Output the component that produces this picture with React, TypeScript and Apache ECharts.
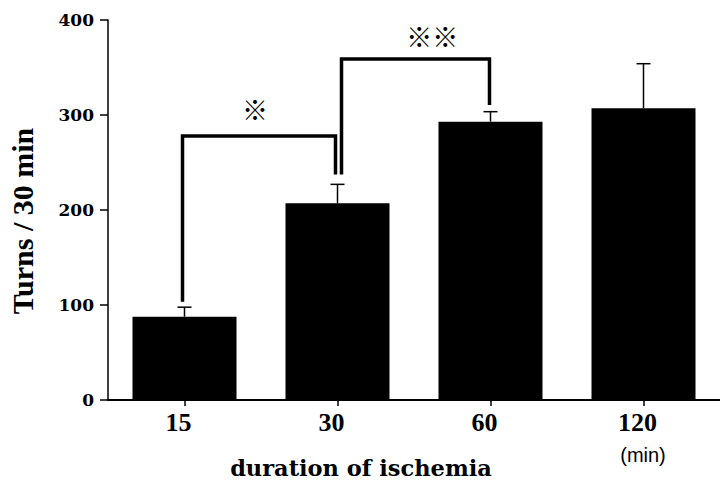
import React, { useEffect, useRef } from "react";
import * as echarts from "echarts";

const categories = ["15", "30", "60", "120"];
const means = [87.7, 207, 293, 307];
const sds = [10, 20, 10.5, 47];
const yTicks = [0, 100, 200, 300, 400];
// brackets: [fromIndex, toIndex, leftBase, top, rightBase]
const bracketFrom = [0, 1];
const bracketTo = [1, 2];
const bracketLeftBase = [103.5, 237.5];
const bracketTop = [278, 359];
const bracketRightBase = [237.5, 310.5];
const starLabels = ["※", "※※"];
const starY = [307, 384];
const starPos = [0.46, 0.62]; // fraction between from and to categories

export default function App() {
  const ref = useRef<HTMLDivElement>(null);
  useEffect(() => {
    if (!ref.current) return;
    const chart = echarts.init(ref.current, undefined, { renderer: "svg" });
    const errData = means.map((m, i) => [i, m, sds[i]]);
    const brData = bracketFrom.map((f, i) => [
      f,
      bracketTo[i],
      bracketLeftBase[i],
      bracketTop[i],
      bracketRightBase[i],
    ]);
    const starData = starLabels.map((s, i) => [bracketFrom[i], bracketTo[i], starY[i], starPos[i]]);
    const leftOff = [-2, 4];
    const rightOff = [-2, -1];
    chart.setOption({
      animation: false,
      backgroundColor: "#ffffff",
      grid: { left: 108, top: 20, width: 617, height: 380, containLabel: false },
      xAxis: {
        type: "category",
        data: categories,
        axisLine: { show: true, lineStyle: { color: "#000", width: 2 } },
        axisTick: { show: true, alignWithLabel: true, length: 6, lineStyle: { color: "#000", width: 1.5 } },
        axisLabel: {
          color: "#000",
          fontFamily: "Liberation Serif",
          fontWeight: "bold",
          fontSize: 26,
          margin: 9,
          padding: [0, 12, 0, 0],
        },
        splitLine: { show: false },
      },
      yAxis: {
        type: "value",
        min: 0,
        max: 400,
        interval: 100,
        axisLine: { show: true, lineStyle: { color: "#000", width: 1.5 } },
        axisTick: { show: true, length: 8, lineStyle: { color: "#000", width: 1.5 } },
        axisLabel: {
          color: "#000",
          fontFamily: "DejaVu Serif",
          fontWeight: "bold",
          fontSize: 17,
          margin: 14,
          formatter: (v: number) => (yTicks.includes(v) ? String(v) : ""),
        },
        splitLine: { show: false },
      },
      series: [
        {
          type: "bar",
          data: means,
          barWidth: 104,
          itemStyle: { color: "#000" },
          z: 2,
        },
        {
          type: "custom",
          data: errData,
          z: 3,
          renderItem: (params: any, api: any) => {
            const i = api.value(0);
            const m = api.value(1);
            const s = api.value(2);
            const p0 = api.coord([i, m]);
            const p1 = api.coord([i, m + s]);
            const hw = 7;
            return {
              type: "group",
              children: [
                {
                  type: "line",
                  shape: { x1: p0[0], y1: p0[1], x2: p1[0], y2: p1[1] },
                  style: { stroke: "#000", lineWidth: 1.5 },
                },
                {
                  type: "line",
                  shape: { x1: p1[0] - hw, y1: p1[1], x2: p1[0] + hw, y2: p1[1] },
                  style: { stroke: "#000", lineWidth: 1.5 },
                },
              ],
            };
          },
        },
        {
          type: "custom",
          data: brData,
          z: 4,
          renderItem: (params: any, api: any) => {
            const k = params.dataIndex;
            const a = api.coord([api.value(0), api.value(2)]);
            const t1 = api.coord([api.value(0), api.value(3)]);
            const t2 = api.coord([api.value(1), api.value(3)]);
            const b = api.coord([api.value(1), api.value(4)]);
            const lx = a[0] + leftOff[k];
            const rx = b[0] + rightOff[k];
            return {
              type: "polyline",
              shape: {
                points: [
                  [lx, a[1]],
                  [lx, t1[1]],
                  [rx, t2[1]],
                  [rx, b[1]],
                ],
              },
              style: { stroke: "#000", lineWidth: 3.5, fill: null, lineJoin: "miter" },
            };
          },
        },
        {
          type: "custom",
          data: starData,
          z: 5,
          renderItem: (params: any, api: any) => {
            const pa = api.coord([api.value(0), api.value(2)]);
            const pb = api.coord([api.value(1), api.value(2)]);
            const f = api.value(3);
            const x = pa[0] + (pb[0] - pa[0]) * f;
            return {
              type: "text",
              x: x,
              y: pa[1],
              style: {
                text: starLabels[params.dataIndex],
                fontFamily: "Noto Sans CJK JP",
                fontSize: 26,
                fill: "#000",
                align: "center",
                verticalAlign: "middle",
              },
            };
          },
        },
      ],
      graphic: [
        {
          type: "text",
          x: 22,
          y: 221,
          rotation: Math.PI / 2,
          style: {
            text: "Turns / 30 min",
            fontFamily: "Liberation Serif",
            fontWeight: "bold",
            fontSize: 30,
            fill: "#000",
            align: "center",
            verticalAlign: "middle",
          },
        },
        {
          type: "text",
          x: 361,
          y: 468,
          style: {
            text: "duration of ischemia",
            fontFamily: "DejaVu Serif",
            fontWeight: "bold",
            fontSize: 22.5,
            fill: "#000",
            align: "center",
            verticalAlign: "middle",
          },
        },
        {
          type: "text",
          x: 643,
          y: 455,
          style: {
            text: "(min)",
            fontFamily: "Liberation Sans",
            fontSize: 20,
            fill: "#000",
            align: "center",
            verticalAlign: "middle",
          },
        },
      ],
    });
    return () => chart.dispose();
  }, []);
  return (
    <div
      ref={ref}
      style={{ width: 720, height: 481, position: "absolute", left: 0, top: 0, background: "#fff" }}
    />
  );
}
